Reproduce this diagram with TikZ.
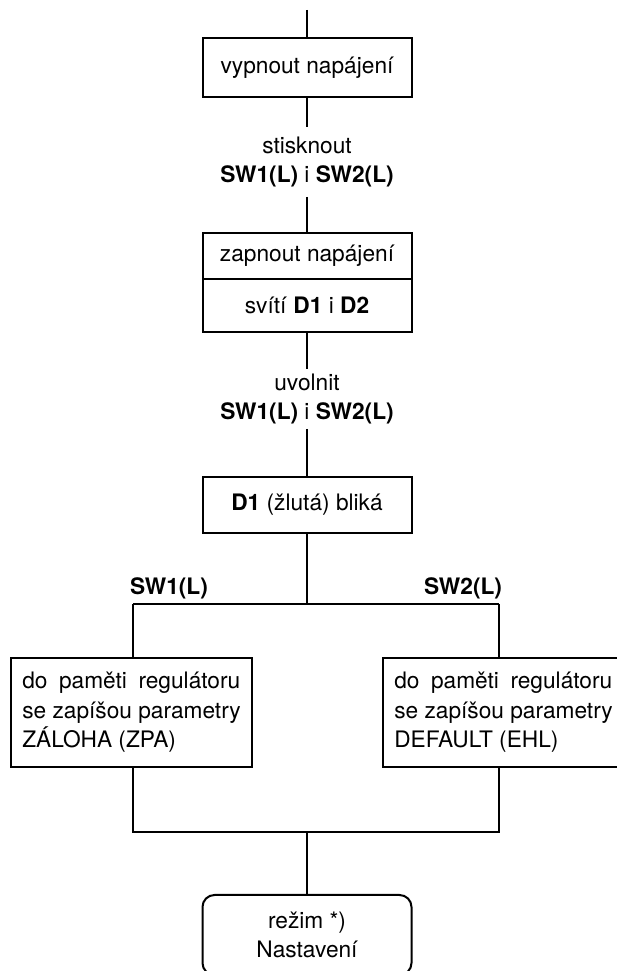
\documentclass[tikz,border=0pt]{standalone}
\usepackage{fontspec}
\setmainfont{TeX Gyre Heros}
\begin{document}
\begin{tikzpicture}[x=1pt,y=1pt,line width=2pt,
  every node/.style={font=\fontsize{22.7}{29.5}\selectfont},
  box/.style={draw,minimum width=209pt,inner sep=0pt,outer sep=0pt},
  cond/.style={align=center,inner xsep=0pt},
  memo/.style={draw,align=left,minimum width=241pt,inner xsep=11pt,inner ysep=0pt,minimum height=109pt,outer sep=0pt}]
\useasboundingbox (0,0) rectangle (616,971);
\coordinate (top) at (307,961);
\node at (307,903.5)[box,minimum height=59pt] (off){vypnout napájení};
\node at (307,809)[cond,inner ysep=8.5pt] (press){stisknout\\\textbf{SW1(L)} i \textbf{SW2(L)}};
\node at (307,715)[box,minimum height=46pt] (on){zapnout napájení};
\node at (on.south)[box,anchor=north,minimum height=53pt] (lit){svítí \textbf{D1} i \textbf{D2}};
\node at (307,572)[cond,inner ysep=3.5pt] (release){uvolnit\\\textbf{SW1(L)} i \textbf{SW2(L)}};
\node at (307,466)[box,minimum height=56pt] (blink){\textbf{D1} (žlutá) bliká};
\coordinate (fork) at (307,367);
\coordinate (forkl) at (133,367);
\coordinate (forkr) at (499,367);
\node at (129,376)[anchor=base west,inner sep=0pt] (sw1){\textbf{SW1(L)}};
\node at (503,376)[anchor=base east,inner sep=0pt] (sw2){\textbf{SW2(L)}};
\node at (131.5,258.5)[memo] (backup){\makebox[218pt][s]{do paměti regulátoru}\\se zapíšou parametry\\ZÁLOHA (ZPA)};
\node at (503.5,258.5)[memo] (default){\makebox[218pt][s]{do paměti regulátoru}\\se zapíšou parametry\\DEFAULT (EHL)};
\coordinate (join) at (307,139);
\node at (307,36)[box,rounded corners=12pt,minimum height=80pt,align=center] (mode){režim *)\\Nastavení};
% connectors
\draw (top) -- (off);
\draw (off) -- (press);
\draw (press) -- (on);
\draw (lit) -- (release);
\draw (release) -- (blink);
\draw (blink) -- (fork);
\draw (forkl) -- (forkr);
\draw (forkl) -- (forkl |- backup.north);
\draw (forkr) -- (forkr |- default.north);
\draw (forkl |- backup.south) -- (forkl |- join) -- (forkr |- join) -- (forkr |- default.south);
\draw (join) -- (mode);
\end{tikzpicture}
\end{document}
